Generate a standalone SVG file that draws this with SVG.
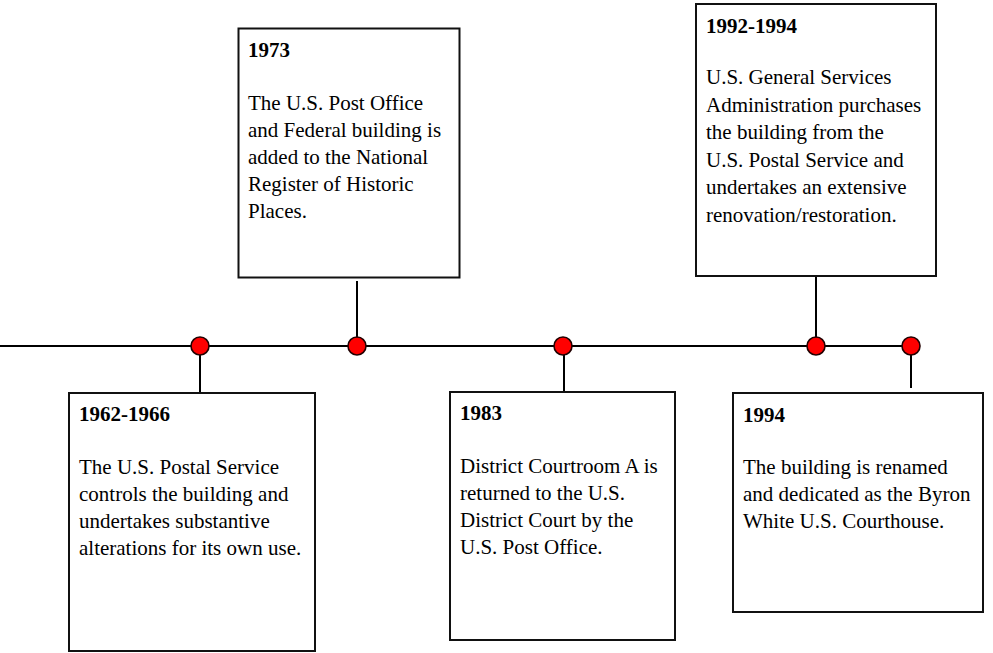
<svg xmlns="http://www.w3.org/2000/svg" width="993" height="653" viewBox="0 0 993 653">
<style>
.box{fill:#fff;stroke:#111;stroke-width:2}
.ln{stroke:#000;stroke-width:2;fill:none}
.dot{fill:#f00;stroke:#200;stroke-width:1.6}
text{font-family:"Liberation Serif","Times New Roman",serif;font-size:21px;fill:#000}
.t{font-weight:bold}
</style>
<rect width="993" height="653" fill="#fff"/>
<g id="connectors">
<line class="ln" x1="0" y1="346" x2="911" y2="346"/>
<line class="ln" x1="200" y1="346" x2="200" y2="392"/>
<line class="ln" x1="357" y1="346" x2="357" y2="281"/>
<line class="ln" x1="564" y1="346" x2="564" y2="392"/>
<line class="ln" x1="816" y1="346" x2="816" y2="277"/>
<line class="ln" x1="911" y1="346" x2="911" y2="388"/>
<circle class="dot" cx="200" cy="346" r="9"/>
<circle class="dot" cx="357" cy="346" r="9"/>
<circle class="dot" cx="563" cy="346" r="9"/>
<circle class="dot" cx="816" cy="346" r="9"/>
<circle class="dot" cx="911" cy="346" r="9"/>
</g>
<g id="n1962">
<rect class="box" x="69" y="393" width="246" height="258"/>
<text class="t" x="79" y="421">1962-1966</text>
<text x="79" y="474">The U.S. Postal Service</text>
<text x="79" y="501">controls the building and</text>
<text x="79" y="528">undertakes substantive</text>
<text x="79" y="555">alterations for its own use.</text>
</g>
<g id="n1973">
<rect class="box" x="238.5" y="28.5" width="221" height="249"/>
<text class="t" x="248" y="57">1973</text>
<text x="248" y="110">The U.S. Post Office</text>
<text x="248" y="137">and Federal building is</text>
<text x="248" y="164">added to the National</text>
<text x="248" y="191">Register of Historic</text>
<text x="248" y="218">Places.</text>
</g>
<g id="n1983">
<rect class="box" x="450" y="392" width="225" height="248"/>
<text class="t" x="460" y="420">1983</text>
<text x="460" y="473">District Courtroom A is</text>
<text x="460" y="500">returned to the U.S.</text>
<text x="460" y="527">District Court by the</text>
<text x="460" y="554">U.S. Post Office.</text>
</g>
<g id="n1992">
<rect class="box" x="696" y="4" width="240" height="272"/>
<text class="t" x="706" y="33">1992-1994</text>
<text x="706" y="84">U.S. General Services</text>
<text x="706" y="111.5">Administration purchases</text>
<text x="706" y="139">the building from the</text>
<text x="706" y="166.5">U.S. Postal Service and</text>
<text x="706" y="194">undertakes an extensive</text>
<text x="706" y="221.5">renovation/restoration.</text>
</g>
<g id="n1994">
<rect class="box" x="733" y="393" width="250" height="219"/>
<text class="t" x="743" y="422">1994</text>
<text x="743" y="474">The building is renamed</text>
<text x="743" y="501">and dedicated as the Byron</text>
<text x="743" y="528">White U.S. Courthouse.</text>
</g>
</svg>
